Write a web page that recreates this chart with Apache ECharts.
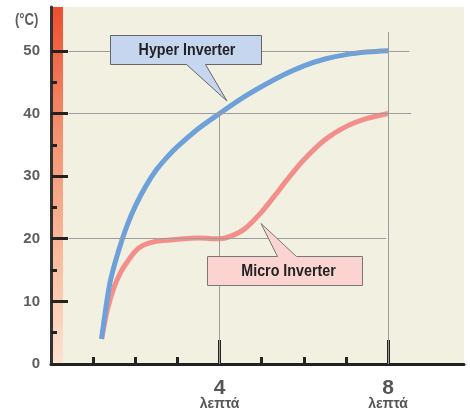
<!DOCTYPE html>
<html><head><meta charset="utf-8">
<script src="https://cdn.jsdelivr.net/npm/echarts@6/dist/echarts.min.js"></script>
<style>html,body{margin:0;padding:0;background:#fff}#c{width:470px;height:414px}</style>
</head><body><div id="c"></div>
<script>
// ---- data ----
const hyperX = [1.2, 1.4, 1.6, 1.8, 2, 2.25, 2.5, 2.75, 3, 3.5, 4, 4.5, 5, 5.5, 6, 6.5, 7, 7.5, 8];
const hyperY = [4, 13, 18, 22, 25.2, 28.4, 31, 33, 34.7, 37.6, 40, 42.3, 44.3, 46.1, 47.6, 48.7, 49.4, 49.8, 50];
const microX = [1.2, 1.35, 1.5, 1.65, 1.8, 2, 2.2, 2.5, 3, 3.5, 4, 4.3, 4.6, 5, 5.3, 5.6, 6, 6.5, 7, 7.5, 8];
const microY = [4, 9, 12.3, 14.6, 16.2, 18, 19, 19.6, 19.9, 20.1, 20, 20.5, 21.6, 24.3, 26.8, 29.4, 32.6, 35.8, 37.9, 39.2, 40];
const yMajor = [0, 10, 20, 30, 40, 50];
const yMinor = [5, 15, 25, 35, 45];
const xMajor = [4, 8];
const xMinor = [1, 2, 3, 5, 6, 7];
const xUnit = 'λεπτά';
const yUnit = '(°C)';
const seriesNames = ['Hyper Inverter', 'Micro Inverter'];

const FONT = "'Liberation Sans',Arial,sans-serif";
const chart = echarts.init(document.getElementById('c'), null, {renderer: 'canvas'});
const zip = (xs, ys) => xs.map((x, i) => [x, ys[i]]);

const X_MAX = 9.8, Y_MAX = 57;
const axisCommon = {type: 'value', min: 0, splitLine: {show: false}};
chart.setOption({
  animation: false,
  grid: {left: 51, right: 6, top: 7, bottom: 50, outerBoundsMode: 'none', containLabel: false},
  xAxis: [
    Object.assign({}, axisCommon, {max: X_MAX, position: 'bottom',
      axisLine: {show: true, lineStyle: {color: '#222', width: 3}},
      axisTick: {show: true, inside: true, length: 24, customValues: xMajor, lineStyle: {color: '#222', width: 3}},
      axisLabel: {show: true, customValues: xMajor, margin: 16,
        formatter: v => '{a|' + v + '}\n{b|' + xUnit + '}',
        rich: {a: {fontFamily: FONT, fontWeight: 'bold', fontSize: 21, color: '#555', lineHeight: 17, align: 'center'},
               b: {fontFamily: FONT, fontWeight: 'bold', fontSize: 14, color: '#555', lineHeight: 15, align: 'center'}}}}),
    Object.assign({}, axisCommon, {max: X_MAX, position: 'bottom',
      axisLine: {show: false},
      axisTick: {show: true, inside: true, length: 7, customValues: xMinor, lineStyle: {color: '#222', width: 3}},
      axisLabel: {show: false}})
  ],
  yAxis: [
    Object.assign({}, axisCommon, {max: Y_MAX, position: 'left',
      axisLine: {show: true, lineStyle: {color: '#333', width: 3}},
      axisTick: {show: true, inside: true, length: 17, customValues: yMajor, lineStyle: {color: '#222', width: 3}},
      axisLabel: {show: true, customValues: yMajor, margin: 11, fontFamily: FONT, fontWeight: 'bold', fontSize: 15, color: '#5e5e5e'}}),
    Object.assign({}, axisCommon, {max: Y_MAX, position: 'left',
      axisLine: {show: false},
      axisTick: {show: true, inside: true, length: 6, customValues: yMinor, lineStyle: {color: '#222', width: 3}},
      axisLabel: {show: false}})
  ],
  series: [
    {type: 'line', name: 'guides', xAxisIndex: 0, yAxisIndex: 0, data: [], z: 1,
     markLine: {silent: true, symbol: 'none', label: {show: false},
       lineStyle: {color: '#9c9c9c', width: 1, type: 'solid'},
       data: [
         [{coord: [0.42, 50]}, {coord: [8.5, 50]}],
         [{coord: [0.42, 40]}, {coord: [8.55, 40]}],
         [{coord: [0.42, 20]}, {coord: [7.95, 20]}],
         [{coord: [4, 0]}, {coord: [4, 40]}],
         [{coord: [8, 0]}, {coord: [8, 53]}]
       ]}},
    {type: 'line', name: seriesNames[1], xAxisIndex: 0, yAxisIndex: 0, data: zip(microX, microY), smooth: 0.3,
     showSymbol: false, lineStyle: {color: '#f38e8a', width: 5}, z: 3},
    {type: 'line', name: seriesNames[0], xAxisIndex: 0, yAxisIndex: 0, data: zip(hyperX, hyperY), smooth: 0.3,
     showSymbol: false, lineStyle: {color: '#6ea0da', width: 5}, z: 4}
  ]
});

// background and callouts
const p0 = chart.convertToPixel({xAxisIndex: 0, yAxisIndex: 0}, [0, 0]);
const p1 = chart.convertToPixel({xAxisIndex: 0, yAxisIndex: 0}, [X_MAX, Y_MAX]);
const bandW = 12;
chart.setOption({
  graphic: [
    {type: 'rect', z: -3, silent: true, shape: {x: p0[0], y: p1[1], width: p1[0] - p0[0], height: p0[1] - p1[1]},
     style: {fill: '#f2f0e1'}},
    {type: 'rect', z: -2, silent: true, shape: {x: p0[0], y: p1[1], width: bandW, height: p0[1] - p1[1]},
     style: {fill: new echarts.graphic.LinearGradient(0, 0, 0, 1, [
       {offset: 0, color: '#ee4e2f'}, {offset: 0.35, color: '#f4916f'}, {offset: 0.7, color: '#f9bc9e'}, {offset: 1, color: '#fde3d2'}])}},
    {type: 'text', z: 10, x: 15, y: 13, scaleX: 0.82, style: {text: yUnit, fontFamily: FONT, fontWeight: 'bold', fontSize: 16, fill: '#5e5e5e'}},
    {type: 'polygon', z: 20, shape: {points: [[110.5, 35.5], [261.5, 35.5], [261.5, 64.5], [205.5, 64.5], [227, 101], [186.5, 64.5], [110.5, 64.5]]},
     style: {fill: '#c6d6ef', stroke: '#666', lineWidth: 1}},
    {type: 'text', z: 21, x: 187, y: 50.5, scaleX: 0.84, style: {text: seriesNames[0], fontFamily: FONT, fontWeight: 'bold', fontSize: 17, fill: '#222', align: 'center', verticalAlign: 'middle'}},
    {type: 'polygon', z: 20, shape: {points: [[207.5, 256.5], [277.5, 256.5], [261, 223.5], [296.5, 256.5], [362.5, 256.5], [362.5, 285.5], [207.5, 285.5]]},
     style: {fill: '#fbd4d2', stroke: '#777', lineWidth: 1}},
    {type: 'text', z: 21, x: 288.5, y: 271, scaleX: 0.84, style: {text: seriesNames[1], fontFamily: FONT, fontWeight: 'bold', fontSize: 17, fill: '#222', align: 'center', verticalAlign: 'middle'}}
  ]
});
</script></body></html>
